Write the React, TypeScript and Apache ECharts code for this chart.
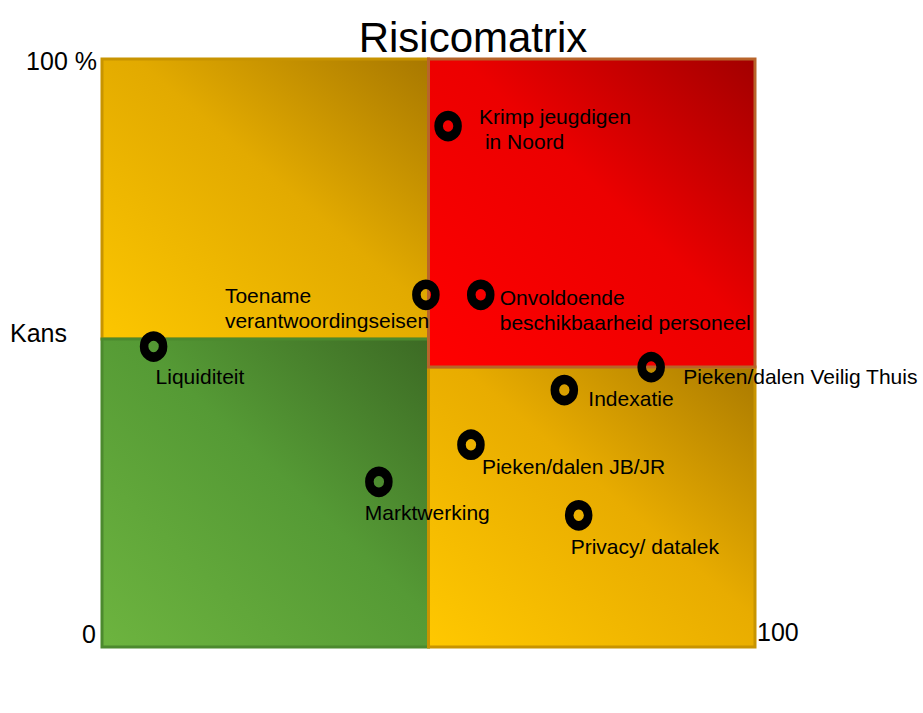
import React, { useEffect, useRef } from "react";
import * as echarts from "echarts";

// ---- data ----
const riskNames = [
  "Krimp jeugdigen\n in Noord",
  "Toename\nverantwoordingseisen",
  "Onvoldoende\nbeschikbaarheid personeel",
  "Liquiditeit",
  "Pieken/dalen Veilig Thuis",
  "Indexatie",
  "Pieken/dalen JB/JR",
  "Marktwerking",
  "Privacy/ datalek",
];
const impactValues = [53.0, 49.6, 58.0, 7.9, 84.1, 70.8, 56.5, 42.4, 73.0];
const chanceValues = [88.6, 59.9, 59.9, 51.1, 47.6, 43.7, 34.4, 28.1, 22.4];

const axisRange = [0, 100];
const xSplit = 50;
const leftSplit = 52.4;
const rightSplit = 47.6;

const titleText = "Risicomatrix";
const yAxisName = "Kans";
const cornerLabels = ["100 %", "0", "100"];

// ---- styles (not data) ----
const labelOffsets: number[][] = [
  [31, 3],
  [-201, 13],
  [19, 15],
  [2, 30],
  [32, 9],
  [24, 8],
  [11, 22],
  [-14, 31],
  [-8, 31],
];
const FONT = "Liberation Sans, Arial, sans-serif";
const GRID = { left: 102, top: 59, width: 653, height: 588 };

function grad(c0: string, cMid: string | null, c1: string) {
  const stops = cMid
    ? [
        { offset: 0, color: c0 },
        { offset: 0.55, color: cMid },
        { offset: 1, color: c1 },
      ]
    : [
        { offset: 0, color: c0 },
        { offset: 1, color: c1 },
      ];
  return { type: "linear", x: 0, y: 1, x2: 1, y2: 0, colorStops: stops, global: false };
}

export default function App() {
  const ref = useRef<HTMLDivElement>(null);
  useEffect(() => {
    if (!ref.current) return;
    const chart = echarts.init(ref.current, null, { renderer: "svg" });
    const [mn, mx] = axisRange;

    const quadrants = [
      [
        {
          xAxis: mn,
          yAxis: leftSplit,
          itemStyle: { color: grad("#fcc600", "#e2aa00", "#a87800"), borderColor: "#c89400", borderWidth: 3 },
        },
        { xAxis: xSplit, yAxis: mx },
      ],
      [
        {
          xAxis: mn,
          yAxis: mn,
          itemStyle: { color: grad("#6db43f", "#559a35", "#3c6a24"), borderColor: "#4c8a2e", borderWidth: 3 },
        },
        { xAxis: xSplit, yAxis: leftSplit },
      ],
      [
        {
          xAxis: xSplit,
          yAxis: mn,
          itemStyle: { color: grad("#ffc800", "#e8ac00", "#aa7a00"), borderColor: "#c89400", borderWidth: 3 },
        },
        { xAxis: mx, yAxis: rightSplit },
      ],
      [
        {
          xAxis: xSplit,
          yAxis: rightSplit,
          itemStyle: { color: grad("#ff0000", "#ec0000", "#a20000"), borderColor: "#b8642a", borderWidth: 3 },
        },
        { xAxis: mx, yAxis: mx },
      ],
    ];

    const points = riskNames.map((name, i) => ({
      name,
      value: [impactValues[i], chanceValues[i]],
      label: {
        show: true,
        position: "inside",
        align: "left",
        verticalAlign: "middle",
        offset: labelOffsets[i],
        formatter: name,
        color: "#000",
        fontSize: 21,
        lineHeight: 25,
        fontFamily: FONT,
      },
    }));

    const gL = GRID.left;
    const gT = GRID.top;
    const gR = GRID.left + GRID.width;
    const gB = GRID.top + GRID.height;
    const txt = (text: string, x: number, y: number, align: string) => ({
      type: "text",
      x,
      y,
      silent: true,
      style: { text, fill: "#000", fontSize: 25, fontFamily: FONT, align, verticalAlign: "middle" },
    });

    chart.setOption({
      animation: false,
      title: {
        text: titleText,
        left: 468,
        top: 11,
        textAlign: "center",
        textStyle: { fontSize: 42, fontWeight: "normal", color: "#000", fontFamily: FONT },
      },
      grid: { left: GRID.left, top: GRID.top, width: GRID.width, height: GRID.height },
      xAxis: { type: "value", min: mn, max: mx, show: false },
      yAxis: { type: "value", min: mn, max: mx, show: false },
      graphic: [
        txt(cornerLabels[0], gL - 5, gT + 2, "right"),
        txt(cornerLabels[1], gL - 6, gB - 13, "right"),
        txt(cornerLabels[2], gR + 2, gB - 15, "left"),
        txt(yAxisName, 10, 333, "left"),
      ],
      series: [
        {
          type: "scatter",
          data: [],
          silent: true,
          z: 1,
          markArea: { silent: true, data: quadrants },
        },
        {
          type: "scatter",
          z: 5,
          symbol: "circle",
          symbolSize: [19, 21],
          itemStyle: { color: "rgba(0,0,0,0)", borderColor: "#000", borderWidth: 9, opacity: 1 },
          data: points,
        },
      ],
    });
    return () => chart.dispose();
  }, []);
  return (
    <div
      ref={ref}
      style={{ position: "fixed", left: 0, top: 0, width: "923px", height: "713px", background: "#fff" }}
    />
  );
}
